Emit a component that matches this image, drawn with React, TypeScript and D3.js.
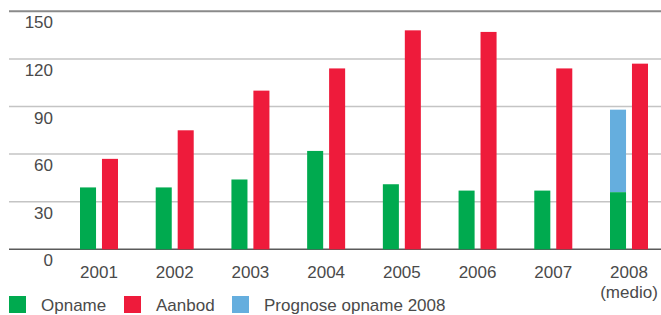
import React from 'react';
import * as d3 from 'd3';

// chart data
const years = ['2001', '2002', '2003', '2004', '2005', '2006', '2007', '2008'];
const opname = [39, 39, 44, 62, 41, 37, 37, 36];
const aanbod = [57, 75, 100, 114, 138, 137, 114, 117];
const prognose2008 = 88; // stacked on top of opname 2008
const yTicks = [0, 30, 60, 90, 120, 150];
const legendItems = ['Opname', 'Aanbod', 'Prognose opname 2008'];

const W = 661;
const H = 315;
const colors = { Opname: '#00aa4f', Aanbod: '#ee1b3b', Prognose: '#65aede' };
const font = '"Liberation Sans", Arial, sans-serif';
const textColor = '#4a4a4a';

export default function App() {
  const x = d3.scalePoint<string>().domain(years).range([99, 629]);
  const x1 = d3.scaleBand<string>().domain(['Opname', 'Aanbod']).range([-19, 19]).paddingInner(0.27);
  const y = d3.scaleLinear().domain([0, 150]).range([249.3, 11.3]);

  const last = years[years.length - 1];

  return (
    <svg width={W} height={H} style={{ position: 'absolute', left: 0, top: 0, display: 'block' }}>
      <rect width={W} height={H} fill="#fff" />
      {/* grid */}
      {yTicks.map((t) => {
        const stroke = t === 150 ? '#8a8a8a' : t === 0 ? '#5a5a5a' : '#c4c4c4';
        return (
          <g key={t}>
            <line x1={9} x2={W} y1={y(t)} y2={y(t)} stroke={stroke} strokeWidth={t === 150 ? 2 : 1.5} />
            <text x={53} y={y(t) + 17} textAnchor="end" fontFamily={font}
              fontSize={17} fill={textColor}>{t}</text>
          </g>
        );
      })}
      {/* bars */}
      {years.map((yr, i) => {
        const cx = x(yr)!;
        return (
          <g key={yr}>
            {yr === last && (
              <rect x={cx + x1('Opname')!} width={x1.bandwidth()} y={y(prognose2008)}
                height={y(opname[i]) - y(prognose2008)} fill={colors.Prognose} />
            )}
            <rect x={cx + x1('Opname')!} width={x1.bandwidth()} y={y(opname[i])}
              height={y(0) - y(opname[i])} fill={colors.Opname} />
            <rect x={cx + x1('Aanbod')!} width={x1.bandwidth()} y={y(aanbod[i])}
              height={y(0) - y(aanbod[i])} fill={colors.Aanbod} />
            <text x={cx} y={278} textAnchor="middle" fontFamily={font}
              fontSize={17} fill={textColor}>{yr}</text>
            {yr === last && (
              <text x={cx} y={297.5} textAnchor="middle" fontFamily={font}
                fontSize={17} fill={textColor}>(medio)</text>
            )}
          </g>
        );
      })}
      {/* legend */}
      {legendItems.map((label, i) => {
        const lx = [9, 124, 232][i];
        const c = [colors.Opname, colors.Aanbod, colors.Prognose][i];
        return (
          <g key={label}>
            <rect x={lx} y={296} width={17} height={17} fill={c} />
            <text x={lx + 32} y={311} fontFamily={font} fontSize={17}
              fill={textColor}>{label}</text>
          </g>
        );
      })}
    </svg>
  );
}
